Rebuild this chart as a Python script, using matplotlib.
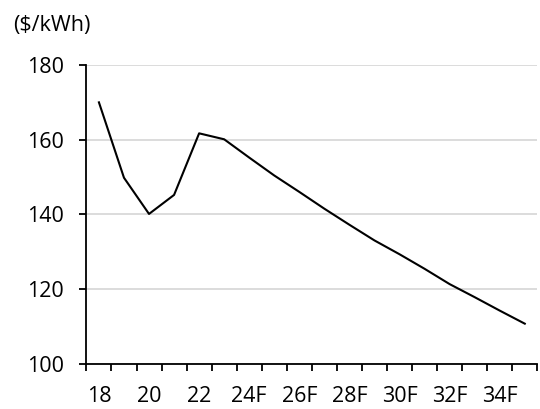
import matplotlib.pyplot as plt

# Price per kWh, 2018 to 2035 forecast
years = ['18', '19', '20', '21', '22', '23', '24F', '25F', '26F', '27F',
         '28F', '29F', '30F', '31F', '32F', '33F', '34F', '35F']
prices = [170.0, 149.8, 140.1, 145.2, 161.7, 160.1, 155.2, 150.4, 146.0, 141.5,
          137.2, 133.0, 129.3, 125.4, 121.3, 117.8, 114.2, 110.7]
y_ticks = [100, 120, 140, 160, 180]

plt.rcParams['font.family'] = ['Open Sans', 'DejaVu Sans']

fig = plt.figure(figsize=(5.4, 4.09), dpi=100)
ax = fig.add_axes([0.160, 0.111, 0.835, 0.730])

x = list(range(len(years)))
ax.plot(x, prices, color='black', linewidth=1.5, zorder=3)

# axis ranges and gridlines
ax.set_ylim(100, 180)
ax.set_xlim(-0.5, len(years) - 0.5)
ax.set_yticks(y_ticks)
ax.set_yticklabels([str(v) for v in y_ticks], fontsize=15.5)
ax.yaxis.grid(True, color='#d9d9d9', linewidth=1.3)
ax.set_axisbelow(True)

# category labels every other year, tick marks between categories
ax.set_xticks(x[::2])
ax.set_xticklabels(years[::2], fontsize=15.5)
ax.set_xticks([i - 0.5 for i in range(len(years) + 1)], minor=True)
ax.tick_params(axis='x', which='major', length=0, pad=16)
ax.tick_params(axis='x', which='minor', length=5, width=1.3, direction='out')
ax.tick_params(axis='y', length=5, width=1.3, pad=11)

for side in ['top', 'right']:
    ax.spines[side].set_visible(False)
for side in ['left', 'bottom']:
    ax.spines[side].set_linewidth(1.3)

fig.text(0.024, 0.937, '($/kWh)', fontsize=15.5, va='center')

fig.savefig('out.png', dpi=100)
